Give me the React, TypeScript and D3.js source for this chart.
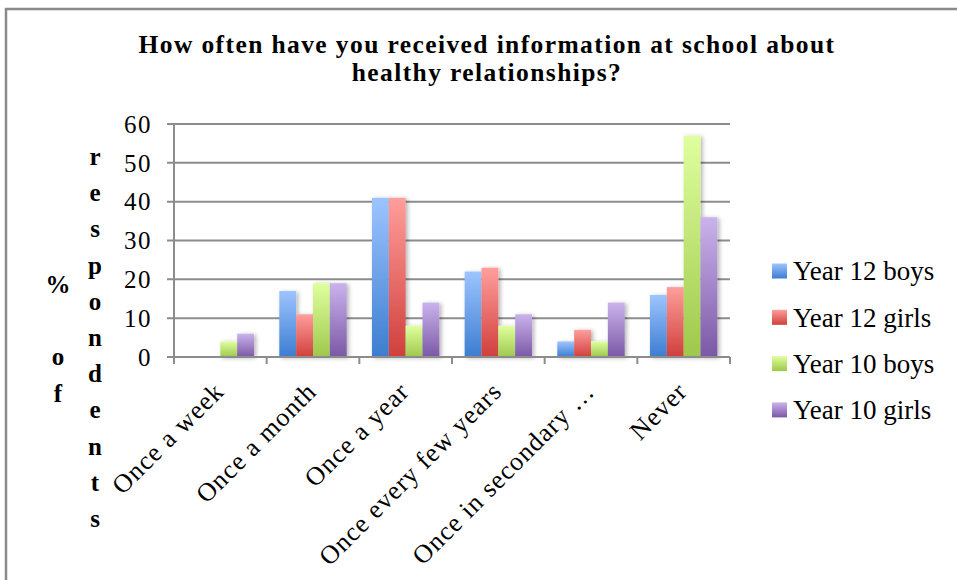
import React from "react";
import * as d3 from "d3";

const title = ["How often have you received information at school about", "healthy relationships?"];
const categories = ["Once a week", "Once a month", "Once a year", "Once every few years", "Once in secondary …", "Never"];
const series = ["Year 12 boys", "Year 12 girls", "Year 10 boys", "Year 10 girls"];
const year12Boys = [0, 17, 41, 22, 4, 16];
const year12Girls = [0, 11, 41, 23, 7, 18];
const year10Boys = [4, 19, 8, 8, 4, 57];
const year10Girls = [6, 19, 14, 11, 14, 36];
const yTicks = [0, 10, 20, 30, 40, 50, 60];
const yTitleLeft = ["%", "", "o", "f"];
const yTitleRight = "respondents".split("");

// gradient stops per series: light top, darker bottom
const seriesColors = [
  { top: "#9dc4ff", bottom: "#3c7dd0" },
  { top: "#ff9e9b", bottom: "#d03f3c" },
  { top: "#dfff9e", bottom: "#9ec84c" },
  { top: "#cab3ec", bottom: "#7b58a6" },
];

const W = 957;
const H = 580;
const plot = { left: 174, right: 730, top: 124, bottom: 357 };
const serif = "'Liberation Serif', 'Times New Roman', serif";

export default function App() {
  const values = [year12Boys, year12Girls, year10Boys, year10Girls];
  const x = d3.scaleBand<string>().domain(categories).range([plot.left, plot.right]).padding(0);
  const xs = d3
    .scaleBand<string>()
    .domain(series)
    .range([0, x.bandwidth()])
    .paddingInner(0)
    .paddingOuter(0.75);
  const y = d3.scaleLinear().domain([0, 60]).range([plot.bottom, plot.top]);
  const boundaries = [...categories.map((c) => x(c) as number), plot.right];

  return (
    <svg
      width={W}
      height={H}
      viewBox={`0 0 ${W} ${H}`}
      style={{ position: "absolute", left: 0, top: 0, background: "#fff" }}
    >
      <defs>
        {seriesColors.map((c, i) => (
          <linearGradient key={i} id={`grad${i}`} x1="0" y1="0" x2="0" y2="1">
            <stop offset="0%" stopColor={c.top} />
            <stop offset="100%" stopColor={c.bottom} />
          </linearGradient>
        ))}
        <filter id="barShadow" x="-30%" y="-10%" width="160%" height="120%">
          <feDropShadow dx="2" dy="1" stdDeviation="2" floodColor="#000" floodOpacity="0.3" />
        </filter>
      </defs>

      {/* chart frame */}
      <rect x={6} y={9} width={W + 20} height={H + 20} fill="none" stroke="#8a8a8a" strokeWidth={2.5} />

      {/* title */}
      <g fontFamily={serif} fontWeight="bold" fontSize={25.5} letterSpacing={1.4} textAnchor="middle" fill="#000">
        {title.map((t, i) => (
          <text key={i} x={487} y={53 + i * 28}>
            {t}
          </text>
        ))}
      </g>

      {/* gridlines */}
      <g>
        {yTicks.map((t) => (
          <line
            key={t}
            x1={plot.left - 7}
            x2={plot.right}
            y1={y(t)}
            y2={y(t)}
            stroke="#8c8c8c"
            strokeWidth={2}
          />
        ))}
      </g>

      {/* bars */}
      <g filter="url(#barShadow)">
        {series.map((s, si) =>
          categories.map((c, ci) => {
            const v = values[si][ci];
            if (v <= 0) return null;
            return (
              <rect
                key={`${si}-${ci}`}
                x={(x(c) as number) + (xs(s) as number)}
                y={y(v)}
                width={xs.bandwidth()}
                height={y(0) - y(v)}
                fill={`url(#grad${si})`}
              />
            );
          })
        )}
      </g>

      {/* axes */}
      <line x1={plot.left} x2={plot.left} y1={plot.top} y2={plot.bottom + 1} stroke="#8c8c8c" strokeWidth={2} />
      <line x1={plot.left - 7} x2={plot.right} y1={plot.bottom} y2={plot.bottom} stroke="#8c8c8c" strokeWidth={2} />
      {boundaries.map((b, i) => (
        <line key={i} x1={b} x2={b} y1={plot.bottom} y2={plot.bottom + 7} stroke="#8c8c8c" strokeWidth={2} />
      ))}

      {/* y tick labels */}
      <g fontFamily={serif} fontSize={25} letterSpacing={1.5} textAnchor="end" fill="#000">
        {yTicks.map((t) => (
          <text key={t} x={152} y={y(t)} dy="0.35em">
            {t}
          </text>
        ))}
      </g>

      {/* x category labels */}
      <g fontFamily={serif} fontSize={26} letterSpacing={1} textAnchor="end" fill="#000">
        {categories.map((c) => {
          const cx = (x(c) as number) + x.bandwidth() / 2;
          return (
            <text key={c} transform={`translate(${cx + 5},${plot.bottom + 36}) rotate(-45)`}>
              {c}
            </text>
          );
        })}
      </g>

      {/* y axis title */}
      <g fontFamily={serif} fontWeight="bold" fontSize={25} textAnchor="middle" fill="#000">
        {yTitleLeft.map((ch, i) => (
          <text key={`l${i}`} x={58} y={293 + i * 36.2}>
            {ch}
          </text>
        ))}
        {yTitleRight.map((ch, i) => (
          <text key={`r${i}`} x={95} y={165 + i * 36.2}>
            {ch}
          </text>
        ))}
      </g>

      {/* legend */}
      <g fontFamily={serif} fontSize={27} fill="#000">
        {series.map((s, i) => (
          <g key={s} transform={`translate(772,${271 + i * 46.3})`}>
            <rect x={0} y={-7.5} width={15} height={15} fill={`url(#grad${i})`} />
            <text x={21} y={0} dy="0.35em">
              {s}
            </text>
          </g>
        ))}
      </g>
    </svg>
  );
}
